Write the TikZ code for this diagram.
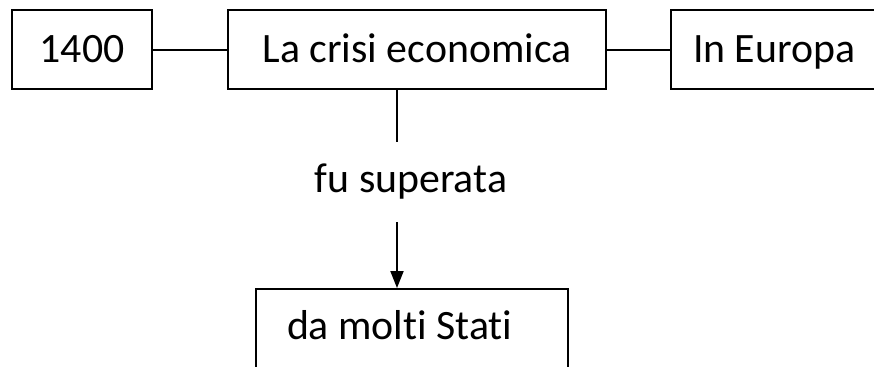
\documentclass[tikz,border=0pt]{standalone}
\usepackage{fontspec}
\setmainfont[Ligatures=NoCommon]{Carlito}
\usetikzlibrary{arrows.meta}

\begin{document}
\begin{tikzpicture}[x=0.02cm,y=-0.02cm,line width=0.04cm,
  font=\fontsize{23.8pt}{29pt}\selectfont,
  box/.style={draw,rectangle,minimum height=1.58cm,inner sep=0pt,
    text height=0.6cm,text depth=0.1cm}]
\useasboundingbox (0,0) rectangle (874,366);
% top row
\node[box,minimum width=2.82cm] (anno) at (82,49.5) {1400\hspace{0.2cm}};
\node[box,minimum width=7.56cm] (crisi) at (417,49.5) {La crisi economica};
\node[box,anchor=west,inner xsep=0.44cm] (europa) at (670,49.5) {\makebox[4cm][l]{In Europa}};
\draw (anno) -- (crisi);
\draw (crisi) -- (europa);
% verb in the middle
\node[anchor=base] (verbo) at (411,192) {fu superata};
\coordinate (cut1) at (397,142);
\coordinate (cut2) at (397,222);
\draw (crisi.south -| cut1) -- (cut1);
% bottom box
\node[draw,anchor=north,inner xsep=0.62cm,inner ysep=0pt,
  text height=1.0cm,text depth=1.2cm] (stati) at (412,288) {\makebox[5cm][l]{da molti Stati}};
\draw[-{Triangle[length=0.34cm,width=0.26cm]}] (cut2) -- (cut2 |- stati.north);
\end{tikzpicture}
\end{document}
